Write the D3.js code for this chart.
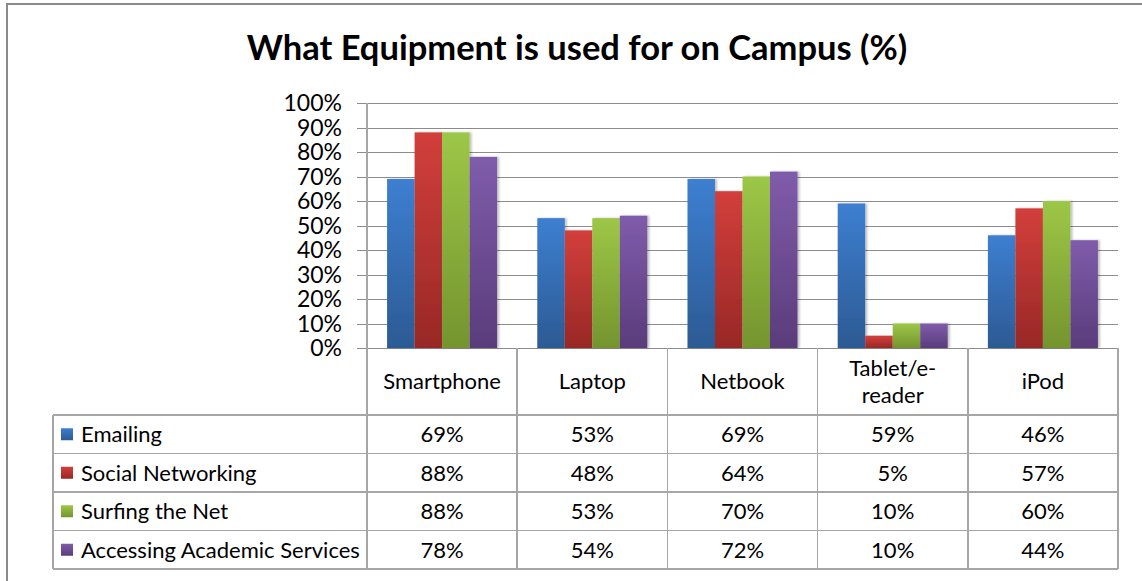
<!DOCTYPE html>
<html lang="en">
<head>
    <meta charset="UTF-8">
    <title>What Equipment is used for on Campus (%)</title>
    <script src="https://d3js.org/d3.v7.min.js"></script>
    <style>
        body {
            margin: 0;
            background: #fff;
        }
        text {
            font-family: Lato, "Noto Sans", sans-serif;
            fill: #000;
        }
        .title {
            font-size: 34.5px;
            font-weight: bold;
        }
        .tick-label {
            font-size: 23px;
        }
        .cell, .cat {
            font-size: 22px;
        }
        .grid line {
            stroke: #8c8c8c;
            shape-rendering: crispEdges;
        }
        .tbl line {
            stroke: #a6a6a6;
            stroke-width: 1.5;
            shape-rendering: crispEdges;
        }
    </style>
</head>
<body>
<script>
    var width = 1142;
    var height = 581;

    var categories = ["Smartphone", "Laptop", "Netbook", "Tablet/e-reader", "iPod"];
    var categoryLines = [["Smartphone"], ["Laptop"], ["Netbook"], ["Tablet/e-", "reader"], ["iPod"]];
    var seriesNames = ["Emailing", "Social Networking", "Surfing the Net", "Accessing Academic Services"];

    var emailing = [69, 53, 69, 59, 46];
    var socialNetworking = [88, 48, 64, 5, 57];
    var surfing = [88, 53, 70, 10, 60];
    var academic = [78, 54, 72, 10, 44];
    var seriesValues = [emailing, socialNetworking, surfing, academic];

    var yTicks = [0, 10, 20, 30, 40, 50, 60, 70, 80, 90, 100];

    // top/bottom colours of each series gradient
    var colorTop = ["#3d7fd1", "#d23f3b", "#9dc747", "#7f5cab"];
    var colorBottom = ["#2c5a93", "#982826", "#74942e", "#5a3c7b"];

    var plot = {left: 367, right: 1118, top: 103, bottom: 348};
    var table = {left: 53, headerBottom: 415, rowH: 38.5};

    var svg = d3.select("body").append("svg")
            .attr("width", width)
            .attr("height", height);

    var defs = svg.append("defs");
    seriesNames.forEach(function (s, i) {
        var g = defs.append("linearGradient")
                .attr("id", "grad-" + i)
                .attr("x1", 0).attr("y1", 0).attr("x2", 0).attr("y2", 1);
        g.append("stop").attr("offset", "0%").attr("stop-color", colorTop[i]);
        g.append("stop").attr("offset", "100%").attr("stop-color", colorBottom[i]);
    });
    var shadow = defs.append("filter").attr("id", "shadow")
            .attr("x", "-20%").attr("y", "-5%").attr("width", "150%").attr("height", "110%");
    shadow.append("feDropShadow")
            .attr("dx", 2).attr("dy", 0).attr("stdDeviation", 1.2)
            .attr("flood-color", "#000").attr("flood-opacity", 0.25);

    // outer chart border (runs off the picture right and bottom)
    svg.append("path")
            .attr("d", "M7," + height + "V4H" + width)
            .attr("fill", "none")
            .attr("stroke", "#8a8a8a")
            .attr("stroke-width", 2);

    svg.append("text").attr("class", "title")
            .attr("x", 577).attr("y", 60)
            .attr("text-anchor", "middle")
            .text("What Equipment is used for on Campus (%)");

    var x0 = d3.scaleBand()
            .domain(categories)
            .range([plot.left, plot.right])
            .padding(0);
    var x1 = d3.scaleBand()
            .domain(d3.range(seriesNames.length))
            .range([0, x0.bandwidth()])
            .paddingInner(0)
            .paddingOuter(0.73);
    var y = d3.scaleLinear()
            .domain([0, 100])
            .range([plot.bottom, plot.top]);

    // gridlines with tick marks
    var grid = svg.append("g").attr("class", "grid");
    grid.selectAll("line")
            .data(yTicks)
            .enter()
            .append("line")
            .attr("x1", plot.left - 10)
            .attr("x2", plot.right)
            .attr("y1", function (d) { return Math.round(y(d)) + 0.5; })
            .attr("y2", function (d) { return Math.round(y(d)) + 0.5; });

    svg.append("g").selectAll("text")
            .data(yTicks)
            .enter()
            .append("text")
            .attr("class", "tick-label")
            .attr("x", 342)
            .attr("y", function (d) { return y(d); })
            .attr("dy", "0.36em")
            .attr("text-anchor", "end")
            .text(function (d) { return d + "%"; });

    // bars
    var groups = svg.append("g").selectAll("g")
            .data(categories)
            .enter()
            .append("g")
            .attr("transform", function (d) { return "translate(" + x0(d) + ",0)"; });

    groups.selectAll("rect")
            .data(function (d, ci) {
                return seriesValues.map(function (vals, si) {
                    return {series: si, value: vals[ci]};
                });
            })
            .enter()
            .append("rect")
            .attr("x", function (d) { return x1(d.series); })
            .attr("width", x1.bandwidth())
            .attr("y", function (d) { return y(d.value); })
            .attr("height", function (d) { return y(0) - y(d.value); })
            .attr("fill", function (d) { return "url(#grad-" + d.series + ")"; })
            .attr("filter", "url(#shadow)");

    // data table
    var tbl = svg.append("g").attr("class", "tbl");
    var tableBottom = table.headerBottom + table.rowH * seriesNames.length;

    d3.range(seriesNames.length + 1).forEach(function (r) {
        var yy = table.headerBottom + r * table.rowH;
        tbl.append("line")
                .attr("x1", table.left).attr("x2", plot.right)
                .attr("y1", yy).attr("y2", yy);
    });
    tbl.append("line")
            .attr("x1", table.left).attr("x2", table.left)
            .attr("y1", table.headerBottom).attr("y2", tableBottom);
    tbl.append("line")
            .attr("x1", plot.left).attr("x2", plot.left)
            .attr("y1", plot.top).attr("y2", tableBottom);
    categories.forEach(function (c) {
        var xx = x0(c) + x0.bandwidth();
        tbl.append("line")
                .attr("x1", xx).attr("x2", xx)
                .attr("y1", plot.bottom).attr("y2", tableBottom);
    });

    // category labels
    var headerMid = (plot.bottom + table.headerBottom) / 2;
    categories.forEach(function (c, i) {
        var lines = categoryLines[i];
        var t = svg.append("text").attr("class", "cat")
                .attr("text-anchor", "middle");
        lines.forEach(function (l, li) {
            t.append("tspan")
                    .attr("x", x0(c) + x0.bandwidth() / 2)
                    .attr("y", headerMid + (li - (lines.length - 1) / 2) * 27)
                    .attr("dy", "0.36em")
                    .text(l);
        });
    });

    // legend keys and values
    seriesNames.forEach(function (s, si) {
        var mid = table.headerBottom + table.rowH * (si + 0.5);
        svg.append("rect")
                .attr("x", 61).attr("y", mid - 6)
                .attr("width", 12).attr("height", 12)
                .attr("fill", "url(#grad-" + si + ")");
        svg.append("text").attr("class", "cell")
                .attr("x", 81).attr("y", mid)
                .attr("dy", "0.36em")
                .text(s);
        categories.forEach(function (c, ci) {
            svg.append("text").attr("class", "cell")
                    .attr("x", x0(c) + x0.bandwidth() / 2)
                    .attr("y", mid)
                    .attr("dy", "0.36em")
                    .attr("text-anchor", "middle")
                    .text(seriesValues[si][ci] + "%");
        });
    });
</script>
</body>
</html>
